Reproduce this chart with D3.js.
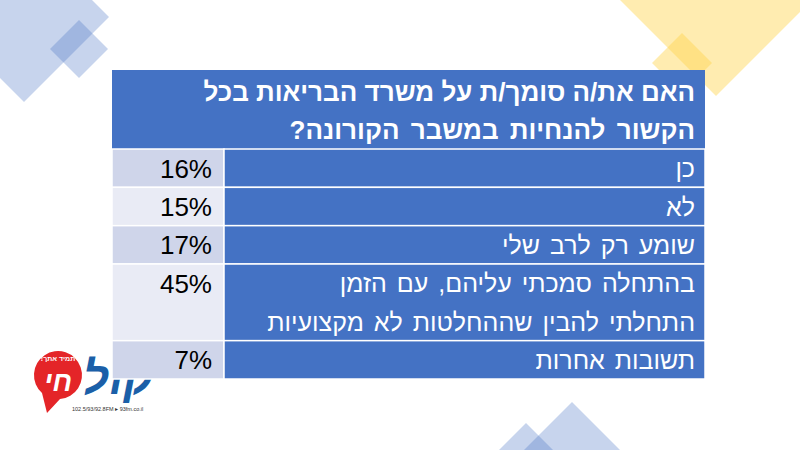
<!DOCTYPE html>
<html>
<head>
<meta charset="utf-8">
<script src="https://cdn.jsdelivr.net/npm/d3@7"></script>
<style>
    body { margin: 0; background: #ffffff; }
    text { font-family: "Liberation Sans", Arial, sans-serif; }
</style>
</head>
<body>
<div id="wrapper"></div>
<script>
const questionLines = ["האם את/ה סומך/ת על משרד הבריאות בכל", "הקשור להנחיות במשבר הקורונה?"]
const answers = [
    ["כן"],
    ["לא"],
    ["שומע רק לרב שלי"],
    ["בהתחלה סמכתי עליהם,  עם הזמן", "התחלתי להבין שההחלטות לא מקצועיות"],
    ["תשובות אחרות"]
]
const percents = [16, 15, 17, 45, 7]

function drawTable() {
    const dimensions = {
        width: 800,
        height: 450,
        table: { left: 112, right: 705, top: 70, headerBottom: 149, bottom: 379 },
        valueColumn: 224
    }

    const svg = d3.select('#wrapper')
        .append('svg')
        .attr('width', dimensions.width)
        .attr('height', dimensions.height)

    // background decorations
    const deco = svg.append('g')
    const diamond = (cx, cy, d) => `M${cx},${cy - d}L${cx + d},${cy}L${cx},${cy + d}L${cx - d},${cy}Z`
    const blue = '#4472C4'
    const yellow = '#FFD54F'
    const shapes = [
        { cx: 24, cy: 17, d: 85, c: blue, o: 0.3 },
        { cx: 79, cy: 49, d: 29, c: blue, o: 0.3 },
        { cx: 716, cy: -2, d: 98, c: yellow, o: 0.45 },
        { cx: 682, cy: 63, d: 30, c: yellow, o: 0.45 },
        { cx: 572, cy: 500, d: 98, c: blue, o: 0.3 },
        { cx: 526, cy: 500, d: 77, c: blue, o: 0.3 }
    ]
    deco.selectAll('path')
        .data(shapes)
        .join('path')
        .attr('d', d => diamond(d.cx, d.cy, d.d))
        .attr('fill', d => d.c)
        .attr('fill-opacity', d => d.o)

    // logo (rough)
    const logo = svg.append('g')
    logo.append('text')
        .attr('x', 118).attr('y', 394)
        .attr('text-anchor', 'middle')
        .attr('font-size', 46).attr('font-weight', 'bold').attr('font-style', 'italic')
        .attr('fill', '#1B5FA8')
        .text('קול')
    logo.append('path')
        .attr('d', 'M47,413 L42,393 A24,24 0 1,1 60,399 Z')
        .attr('fill', '#E42528')
    logo.append('text')
        .attr('x', 58).attr('y', 361)
        .attr('text-anchor', 'middle')
        .attr('direction', 'rtl')
        .attr('font-size', 7).attr('font-weight', 'bold')
        .attr('fill', '#ffffff')
        .text('תמיד אתך!')
    logo.append('text')
        .attr('x', 58).attr('y', 391)
        .attr('text-anchor', 'middle')
        .attr('font-size', 28).attr('font-weight', 'bold').attr('font-style', 'italic')
        .attr('fill', '#ffffff')
        .text('חי')
    logo.append('text')
        .attr('x', 72).attr('y', 411)
        .attr('font-size', 5.5)
        .attr('fill', '#333333')
        .text('102.5/93/92.8FM ▸ 93fm.co.il')

    const t = dimensions.table

    // header
    svg.append('rect')
        .attr('x', t.left).attr('y', t.top)
        .attr('width', t.right - t.left).attr('height', t.headerBottom - t.top)
        .attr('fill', blue)

    const headerY = d3.scaleLinear().domain([0, questionLines.length]).range([t.top + 3, t.headerBottom])
    svg.selectAll('.header-line')
        .data(questionLines)
        .join('text')
        .attr('class', 'header-line')
        .attr('x', t.right - 10)
        .attr('y', (d, i) => (headerY(i) + headerY(i + 1)) / 2)
        .attr('dy', '0.36em')
        .attr('direction', 'rtl')
        .attr('text-anchor', 'start')
        .attr('font-size', 26)
        .attr('font-weight', 'bold')
        .attr('word-spacing', (d, i) => i === 1 ? 4 : 0)
        .attr('fill', '#ffffff')
        .text(d => d)

    // rows: height proportional to number of text lines
    const rows = answers.map((lines, i) => ({ lines, value: percents[i], index: i }))
    let acc = 0
    rows.forEach(r => { r.start = acc; acc += r.lines.length; r.end = acc })
    const yScale = d3.scaleLinear().domain([0, acc]).range([t.headerBottom, t.bottom])

    const row = svg.selectAll('.row')
        .data(rows)
        .join('g')
        .attr('class', 'row')

    row.append('rect')
        .attr('x', t.left)
        .attr('y', d => yScale(d.start))
        .attr('width', dimensions.valueColumn - t.left)
        .attr('height', d => yScale(d.end) - yScale(d.start))
        .attr('fill', d => d.index % 2 === 0 ? '#CFD5EA' : '#E9EBF5')
        .attr('stroke', '#ffffff')
        .attr('stroke-width', 1.5)

    row.append('rect')
        .attr('x', dimensions.valueColumn)
        .attr('y', d => yScale(d.start))
        .attr('width', t.right - dimensions.valueColumn)
        .attr('height', d => yScale(d.end) - yScale(d.start))
        .attr('fill', blue)
        .attr('stroke', '#ffffff')
        .attr('stroke-width', 1.5)

    row.append('text')
        .attr('x', 212)
        .attr('y', d => (yScale(d.start) + yScale(d.start + 1)) / 2)
        .attr('dy', '0.36em')
        .attr('text-anchor', 'end')
        .attr('font-size', 26)
        .attr('fill', '#000000')
        .text(d => `${d.value}%`)

    row.selectAll('.label-line')
        .data(d => d.lines.map((line, j) => ({ line, pos: d.start + j })))
        .join('text')
        .attr('class', 'label-line')
        .attr('x', t.right - 10)
        .attr('y', d => (yScale(d.pos) + yScale(d.pos + 1)) / 2)
        .attr('dy', '0.36em')
        .attr('direction', 'rtl')
        .attr('text-anchor', 'start')
        .attr('font-size', 25)
        .attr('word-spacing', 3)
        .attr('fill', '#ffffff')
        .text(d => d.line)
}

drawTable()
</script>
</body>
</html>
